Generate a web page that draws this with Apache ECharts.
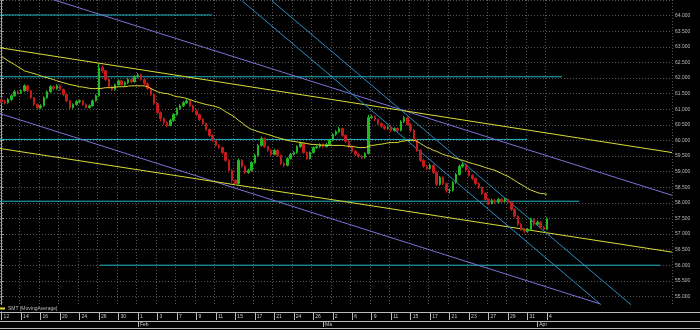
<!DOCTYPE html>
<html><head><meta charset="utf-8">
<script src="https://cdn.jsdelivr.net/npm/echarts@6/dist/echarts.min.js"></script>
<style>html,body{margin:0;padding:0;background:#000;}#c{width:700px;height:330px;}</style>
</head><body><div id="c"></div>
<script>
// ---- data ----
const tickLabels = ["12","14","16","20","24","26","30","1","3","7","9","11","15","17","21","24","26","2","6","9","11","15","17","21","23","27","29","31","4"];
const monthStarts = [42, 99, 165];
const monthNames = ["Feb", "Ma", "Apr"];
const slotCount = 207; // candle slots on the time axis (incl. empty future area)
const seriesName = "SMT [MovingAverage]";
// [open, close, low, high]
const candles = [
[61.30,61.24,61.18,61.36],[61.24,61.21,61.15,61.30],[61.21,61.31,61.18,61.36],[61.31,61.43,61.27,61.48],[61.43,61.56,61.40,61.62],
[61.56,61.53,61.47,61.61],[61.53,61.59,61.49,61.64],[61.59,61.75,61.56,61.80],[61.75,61.59,61.55,61.78],[61.59,61.37,61.33,61.62],
[61.37,61.15,61.10,61.40],[61.15,61.05,60.98,61.19],[61.05,61.11,61.00,61.16],[61.11,61.37,61.08,61.41],[61.37,61.56,61.33,61.60],
[61.56,61.72,61.52,61.77],[61.72,61.66,61.60,61.76],[61.66,61.75,61.62,61.80],[61.75,61.63,61.58,61.79],[61.63,61.47,61.42,61.66],
[61.47,61.27,61.22,61.50],[61.27,61.05,61.00,61.30],[61.05,61.15,61.01,61.19],[61.15,61.24,61.11,61.29],[61.24,61.27,61.19,61.31],
[61.27,61.15,61.10,61.30],[61.15,61.05,61.01,61.19],[61.05,61.11,61.02,61.15],[61.11,61.27,61.08,61.31],[61.27,61.43,61.24,61.48],
[61.43,62.33,61.40,62.45],[62.33,62.23,62.15,62.40],[62.23,61.95,61.90,62.26],[61.95,61.72,61.68,61.98],[61.72,61.63,61.58,61.76],
[61.63,61.78,61.60,61.82],[61.78,61.91,61.75,61.96],[61.91,61.78,61.74,61.95],[61.78,61.85,61.74,61.90],[61.85,61.95,61.81,62.00],
[61.95,61.88,61.83,61.99],[61.88,62.04,61.85,62.09],[62.04,62.10,62.00,62.16],[62.10,61.95,61.91,62.14],[61.95,61.82,61.78,61.98],
[61.82,61.66,61.62,61.86],[61.66,61.47,61.43,61.70],[61.47,61.18,61.13,61.50],[61.18,60.89,60.84,61.22],[60.89,60.70,60.60,60.93],
[60.70,60.57,60.50,60.74],[60.57,60.48,60.42,60.61],[60.48,60.64,60.45,60.69],[60.64,60.83,60.60,60.88],[60.83,61.02,60.79,61.06],
[61.02,61.11,60.98,61.16],[61.11,61.21,61.07,61.26],[61.21,61.27,61.17,61.33],[61.27,61.11,61.06,61.30],[61.11,60.95,60.90,61.14],
[60.95,60.83,60.78,60.99],[60.83,60.67,60.62,60.86],[60.67,60.54,60.49,60.71],[60.54,60.35,60.30,60.57],[60.35,60.16,60.11,60.38],
[60.16,60.00,59.95,60.20],[60.00,59.84,59.79,60.04],[59.84,59.77,59.72,59.88],[59.77,59.61,59.56,59.80],[59.61,59.36,59.31,59.64],
[59.36,59.04,58.98,59.40],[59.04,58.72,58.65,59.08],[58.72,58.62,58.55,58.76],[58.62,59.36,58.58,59.42],[59.36,59.17,59.12,59.40],
[59.17,58.97,58.92,59.20],[58.97,59.04,58.93,59.09],[59.04,59.29,59.00,59.33],[59.29,59.52,59.25,59.57],[59.52,59.84,59.48,59.89],
[59.84,60.06,59.80,60.12],[60.06,59.80,59.76,60.09],[59.80,59.68,59.63,59.83],[59.68,59.55,59.50,59.72],[59.55,59.68,59.52,59.73],
[59.68,59.52,59.47,59.71],[59.52,59.26,59.21,59.55],[59.26,59.20,59.14,59.30],[59.20,59.42,59.17,59.46],[59.42,59.55,59.39,59.60],
[59.55,59.61,59.51,59.66],[59.61,59.80,59.57,59.85],[59.80,59.90,59.76,59.96],[59.90,59.61,59.57,59.93],[59.61,59.42,59.37,59.64],
[59.42,59.61,59.39,59.65],[59.61,59.77,59.58,59.81],[59.77,59.80,59.73,59.85],[59.80,59.87,59.76,59.91],[59.87,59.80,59.75,59.90],
[59.80,59.87,59.77,59.92],[59.87,60.00,59.84,60.05],[60.00,60.19,59.97,60.24],[60.19,60.28,60.15,60.33],[60.28,60.38,60.24,60.44],
[60.38,60.16,60.12,60.41],[60.16,59.97,59.92,60.19],[59.97,59.80,59.75,60.00],[59.80,59.65,59.60,59.83],[59.65,59.55,59.50,59.69],
[59.55,59.49,59.44,59.59],[59.49,59.45,59.40,59.53],[59.45,59.58,59.42,59.62],[59.58,60.73,59.55,60.82],[60.73,60.76,60.68,60.82],
[60.76,60.67,60.62,60.80],[60.67,60.54,60.49,60.70],[60.54,60.45,60.40,60.58],[60.45,60.38,60.33,60.49],[60.38,60.41,60.34,60.46],
[60.41,60.32,60.27,60.45],[60.32,60.38,60.28,60.42],[60.38,60.32,60.27,60.42],[60.32,60.60,60.29,60.65],[60.60,60.73,60.56,60.79],
[60.73,60.51,60.47,60.76],[60.51,60.32,60.27,60.55],[60.32,60.00,59.95,60.36],[60.00,59.68,59.63,60.04],[59.68,59.36,59.31,59.72],
[59.36,59.17,59.12,59.40],[59.17,59.10,59.05,59.21],[59.10,59.20,59.06,59.25],[59.20,58.97,58.92,59.24],[58.97,58.59,58.54,59.01],
[58.59,58.81,58.55,58.86],[58.81,58.62,58.57,58.84],[58.62,58.40,58.32,58.65],[58.40,58.40,58.30,58.46],[58.40,58.65,58.36,58.70],
[58.65,58.91,58.61,58.96],[58.91,59.17,58.87,59.22],[59.17,59.23,59.12,59.30],[59.23,59.04,58.99,59.27],[59.04,58.88,58.83,59.08],
[58.88,58.78,58.73,58.92],[58.78,58.62,58.57,58.81],[58.62,58.49,58.44,58.66],[58.49,58.30,58.25,58.52],[58.30,58.11,58.06,58.34],
[58.11,57.98,57.93,58.14],[57.98,58.08,57.94,58.13],[58.08,58.02,57.97,58.12],[58.02,58.11,57.98,58.16],[58.11,58.05,58.00,58.15],
[58.05,58.11,58.01,58.16],[58.11,58.02,57.97,58.14],[58.02,57.79,57.74,58.05],[57.79,57.57,57.52,57.82],[57.57,57.31,57.26,57.60],
[57.31,57.15,57.10,57.35],[57.15,57.09,57.02,57.19],[57.09,57.15,57.04,57.20],[57.15,57.47,57.12,57.52],[57.47,57.31,57.26,57.50],
[57.31,57.38,57.27,57.44],[57.38,57.22,57.17,57.41],[57.22,57.15,57.09,57.26],[57.15,57.49,57.12,57.53]
];
const smaValues = [
62.68,62.62,62.55,62.49,62.43,62.36,62.30,62.23,62.20,62.17,
62.14,62.11,62.07,62.04,62.01,61.98,61.95,61.91,61.88,61.85,
61.82,61.79,61.77,61.75,61.72,61.71,61.69,61.67,61.66,61.66,
61.66,61.67,61.69,61.69,61.69,61.71,61.72,61.72,61.72,61.74,
61.75,61.75,61.75,61.75,61.75,61.72,61.66,61.61,61.56,61.53,
61.51,61.50,61.47,61.43,61.40,61.39,61.37,61.34,61.31,61.27,
61.24,61.21,61.18,61.15,61.13,61.11,61.08,61.05,60.99,60.92,
60.86,60.80,60.73,60.64,60.57,60.48,60.41,60.35,60.32,60.28,
60.25,60.22,60.19,60.16,60.12,60.09,60.06,60.03,60.00,59.98,
59.97,59.95,59.93,59.92,59.90,59.88,59.87,59.87,59.85,59.85,
59.84,59.84,59.84,59.84,59.84,59.84,59.82,59.81,59.81,59.79,
59.77,59.77,59.77,59.81,59.84,59.85,59.87,59.88,59.90,59.92,
59.93,59.93,59.93,59.97,59.98,60.00,60.00,60.00,59.97,59.90,
59.84,59.77,59.74,59.68,59.65,59.60,59.55,59.52,59.49,59.45,
59.42,59.39,59.36,59.33,59.29,59.26,59.23,59.20,59.17,59.13,
59.10,59.07,59.04,58.99,58.94,58.89,58.85,58.78,58.72,58.65,
58.59,58.53,58.46,58.41,58.37,58.33,58.30,58.29,58.27
];
// drawn trend lines: [[slot, price], [slot, price]]
const cyanLines = [
  [[-0.5, 64.02], [64.8, 64.02]],
  [[-0.5, 62.04], [172.6, 62.04]],
  [[-0.5, 60.03], [161.9, 60.03]],
  [[-0.5, 58.05], [177.9, 58.05]],
  [[30.3, 56.00], [202.8, 56.00]]
];
const purpleLines = [
  [[-0.5, 65.05], [206.5, 58.24]],
  [[-0.5, 60.86], [184.3, 54.76]]
];
const yellowLines = [
  [[-0.5, 62.97], [206.5, 59.61]],
  [[-0.5, 59.74], [206.5, 56.42]]
];
const blueLines = [
  [[74.1, 64.47], [184.7, 54.73]],
  [[83.3, 64.47], [193.9, 54.73]]
];
const priceMin = 54.5, priceMax = 64.5, priceStep = 0.5;

// ---- chart ----
const FONT = 'Liberation Sans';
const categories = Array.from({length: slotCount}, (_, i) => String(i));
const isTick = (idx) => idx % 6 === 0 && idx / 6 < tickLabels.length;
const isMonth = (idx) => monthStarts.indexOf(idx) >= 0;
const lastClose = candles[candles.length - 1][1];

function lineSeries(lines, color) {
  return lines.map(pts => ({
    type: 'line', xAxisIndex: 2, yAxisIndex: 0, data: pts,
    symbol: 'none', silent: true, animation: false, clip: true,
    lineStyle: {color: color, width: 1}, z: 3
  }));
}

const chart = echarts.init(document.getElementById('c'), null, {renderer: 'canvas'});
chart.setOption({
  backgroundColor: '#000',
  animation: false,
  grid: {left: 0, right: 28, top: -1, bottom: 18, containLabel: false},
  legend: {
    show: true, data: [seriesName], left: 0, top: 306, padding: 0,
    itemWidth: 5, itemHeight: 2, itemGap: 2, icon: 'rect', z: 120,
    textStyle: {color: '#bbb', fontSize: 5, fontFamily: FONT, padding: [0,0,0,-2]}
  },
  xAxis: [
    {
      type: 'category', data: categories, gridIndex: 0, position: 'bottom', boundaryGap: true,
      axisLine: {show: true, lineStyle: {color: '#bbb', width: 1}},
      axisTick: {show: true, interval: (i) => isTick(i), alignWithLabel: true, length: 8, lineStyle: {color: '#bbb'}},
      axisLabel: {show: true, interval: (i) => isTick(i), formatter: (v, i) => tickLabels[i / 6] || '',
        align: 'left', padding: [0,0,0,2], margin: 2, color: '#ccc', fontSize: 5, fontFamily: FONT},
      splitLine: {show: true, interval: (i) => isTick(i), lineStyle: {color: '#555', type: [1, 2], width: 1}}
    },
    {
      type: 'category', data: categories, gridIndex: 0, position: 'bottom', offset: 9, boundaryGap: true,
      axisLine: {show: true, lineStyle: {color: '#bbb', width: 1}},
      axisTick: {show: true, interval: (i) => isMonth(i), alignWithLabel: true, length: 6, lineStyle: {color: '#bbb'}},
      axisLabel: {show: true, interval: (i) => isMonth(i), formatter: (v, i) => monthNames[monthStarts.indexOf(i)] || '',
        align: 'left', padding: [0,0,0,2], margin: 1, color: '#ccc', fontSize: 5, fontFamily: FONT},
      splitLine: {show: false}
    },
    {type: 'value', gridIndex: 0, min: -0.5, max: slotCount - 0.5, show: false}
  ],
  yAxis: [{
    type: 'value', position: 'right', min: priceMin, max: priceMax, interval: priceStep, scale: true,
    axisLine: {show: true, lineStyle: {color: '#aaa', width: 1}},
    axisTick: {show: true, length: 2, lineStyle: {color: '#aaa'}},
    minorTick: {show: true, splitNumber: 5, length: 1, lineStyle: {color: '#888'}},
    axisLabel: {show: true, formatter: (v) => v.toFixed(3), showMinLabel: false, showMaxLabel: false,
      color: '#bbb', fontSize: 5, fontFamily: FONT, margin: 3},
    splitLine: {show: true, lineStyle: {color: '#555', type: [1, 2], width: 1}}
  }],
  series: [
    {
      type: 'candlestick', name: 'price', xAxisIndex: 0, yAxisIndex: 0, data: candles,
      barWidth: 2, z: 4,
      itemStyle: {color: '#22b822', color0: '#c41c1c', borderColor: '#22b822', borderColor0: '#c41c1c', borderWidth: 1},
      markLine: {
        silent: true, symbol: ['none', 'none'], animation: false,
        lineStyle: {opacity: 0},
        data: [{yAxis: lastClose}],
        label: {show: true, position: 'end', distance: 2, formatter: lastClose.toFixed(3),
          color: '#e6e07a', backgroundColor: '#000', borderColor: '#c9c25a', borderWidth: 1,
          padding: [0, 1], fontSize: 5, fontFamily: FONT}
      }
    },
    {
      type: 'line', name: seriesName, xAxisIndex: 0, yAxisIndex: 0, data: smaValues,
      symbol: 'none', smooth: false, lineStyle: {color: '#dcdc36', width: 1}, itemStyle: {color: '#dcdc36'}, z: 5
    },
    ...lineSeries(cyanLines, '#22b4c4'),
    ...lineSeries(purpleLines, '#7c72d6'),
    ...lineSeries(yellowLines, '#dcdc36'),
    ...lineSeries(blueLines, '#2a8cc8')
  ],
  graphic: [
    {type: 'rect', shape: {x: 0, y: 305, width: 700, height: 6.5}, style: {fill: '#000'}, z: 100, silent: true},
    {type: 'line', shape: {x1: 672, y1: 312.5, x2: 700, y2: 312.5}, style: {stroke: '#bbb', lineWidth: 1}, z: 101, silent: true},
    {type: 'line', shape: {x1: 672, y1: 321.5, x2: 700, y2: 321.5}, style: {stroke: '#bbb', lineWidth: 1}, z: 101, silent: true},
    {type: 'line', shape: {x1: 0, y1: 328.5, x2: 700, y2: 328.5}, style: {stroke: '#bbb', lineWidth: 1}, z: 101, silent: true}
  ]
});
</script></body></html>
